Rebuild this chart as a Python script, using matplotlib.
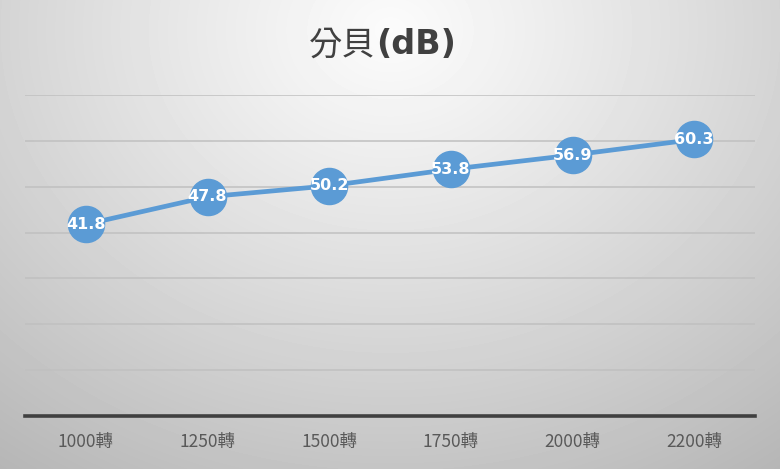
import numpy as np
import matplotlib
matplotlib.use('Agg')
import matplotlib.pyplot as plt
from matplotlib import font_manager

# 數據
categories = ['1000轉', '1250轉', '1500轉', '1750轉', '2000轉', '2200轉']
values = [41.8, 47.8, 50.2, 53.8, 56.9, 60.3]

cjk = 'Noto Sans CJK TC'
names = {f.name for f in font_manager.fontManager.ttflist}
label_font = 'Liberation Sans Narrow' if 'Liberation Sans Narrow' in names else 'DejaVu Sans'
plt.rcParams['font.family'] = [label_font, cjk, 'DejaVu Sans']

W, H = 780, 469
fig = plt.figure(figsize=(W / 100, H / 100), dpi=100)

# 背景漸層（上方中央較亮）
bg = fig.add_axes([0, 0, 1, 1], zorder=-10)
yy, xx = np.mgrid[0:H, 0:W]
r = np.sqrt(((xx - 390) / 520.0) ** 2 + ((yy - 30) / 430.0) ** 2)
shade = np.clip(0.985 - 0.21 * r ** 1.1, 0, 1)
bg.imshow(shade, cmap='gray', vmin=0, vmax=1, aspect='auto', interpolation='bilinear')
bg.axis('off')

ax = fig.add_axes([25 / W, 1 - 416 / H, 730 / W, (416 - 95) / H])
ax.patch.set_alpha(0)
x = np.arange(len(categories))
ax.set_xlim(-0.5, len(categories) - 0.5)
ax.set_ylim(0, 70)
ax.set_yticks(np.arange(10, 71, 10))
ax.yaxis.grid(True, color='#c0c0c0', linewidth=1.1)
ax.set_axisbelow(True)
for s in ['top', 'right', 'left']:
    ax.spines[s].set_visible(False)
ax.spines['bottom'].set_color('#404040')
ax.spines['bottom'].set_linewidth(2.6)
ax.tick_params(axis='y', left=False, labelleft=False)
ax.tick_params(axis='x', bottom=False, pad=9)
ax.set_xticks(x)
ax.set_xticklabels(categories, fontsize=12.5, color='#595959', family=[cjk])

ax.plot(x, values, color='#5B9BD5', linewidth=3.4, marker='o', markersize=26,
        markerfacecolor='#5B9BD5', markeredgecolor='#5B9BD5', zorder=3)
for xi, v in zip(x, values):
    ax.text(xi, v, f'{v:.1f}', ha='center', va='center', color='white',
            fontsize=11.5, fontweight='bold', zorder=4)

# 標題：中文正常字重，(dB) 粗體
fig.text(376 / W, 1 - 45 / H, '分貝', ha='right', va='center', fontsize=24,
         color='#404040', family=[cjk])
fig.text(376 / W, 1 - 45 / H, '(dB)', ha='left', va='center', fontsize=24,
         color='#404040', fontweight='bold')

fig.savefig('out.png', dpi=100)
